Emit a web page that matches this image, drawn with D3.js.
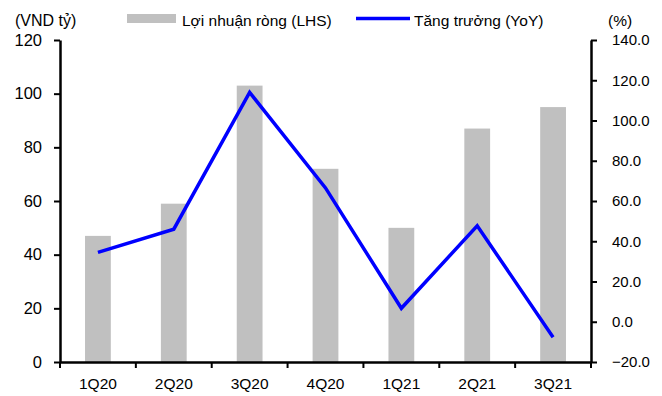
<!DOCTYPE html>
<html>
<head>
<meta charset="utf-8">
<script src="https://cdn.jsdelivr.net/npm/d3@7"></script>
<style>
  body { margin: 0; background: #fff; }
  text { font-family: "Liberation Sans", Arial, sans-serif; fill: #000; }
</style>
</head>
<body>
<div id="chart"></div>
<script>
// data
var quarters = ["1Q20", "2Q20", "3Q20", "4Q20", "1Q21", "2Q21", "3Q21"]
var profit = [47, 59, 103, 72, 50, 87, 95]          // VND ty, left axis
var growth = [34.5, 46, 114, 66.5, 6.7, 47.7, -7.7] // %, right axis
var leftTicks = [0, 20, 40, 60, 80, 100, 120]
var rightTicks = [-20, 0, 20, 40, 60, 80, 100, 120, 140]

var width = 662,
    height = 396,
    margin = {top: 40, left: 60, right: 71, bottom: 34}

var svg = d3.select("#chart")
  .append("svg")
    .attr("width", width)
    .attr("height", height)

var x = d3.scaleBand()
  .domain(quarters)
  .range([margin.left, width - margin.right])

var yL = d3.scaleLinear()
  .domain([0, 120])
  .range([height - margin.bottom, margin.top])

var yR = d3.scaleLinear()
  .domain([-20, 140])
  .range([height - margin.bottom, margin.top])

// bars
var barW = x.bandwidth() * 0.34
svg.selectAll("rect.bar")
  .data(profit)
  .enter()
  .append("rect")
    .attr("class", "bar")
    .attr("x", (d, i) => x(quarters[i]) + x.bandwidth() / 2 - barW / 2)
    .attr("y", d => yL(d))
    .attr("width", barW)
    .attr("height", d => yL(0) - yL(d))
    .attr("fill", "#c0c0c0")

// growth line
var line = d3.line()
  .x((d, i) => x(quarters[i]) + x.bandwidth() / 2)
  .y(d => yR(d))

svg.append("path")
  .datum(growth)
  .attr("d", line)
  .attr("fill", "none")
  .attr("stroke", "#0000ff")
  .attr("stroke-width", 3.5)
  .attr("stroke-linejoin", "miter")

// axes
var leftAxis = svg.append("g")
  .attr("transform", "translate(" + margin.left + ",0)")
  .call(d3.axisLeft(yL).tickValues(leftTicks).tickSize(6).tickSizeOuter(0).tickPadding(12))

var rightAxis = svg.append("g")
  .attr("transform", "translate(" + (width - margin.right) + ",0)")
  .call(d3.axisRight(yR).tickValues(rightTicks).tickSize(6).tickSizeOuter(0).tickPadding(15)
    .tickFormat(d3.format(".1f")))

var xAxis = svg.append("g")
  .attr("transform", "translate(0," + yL(0) + ")")
  .call(d3.axisBottom(x).tickSize(0).tickPadding(16))

// band edge ticks on the x axis
svg.selectAll("line.xtick")
  .data(quarters.concat(["end"]))
  .enter()
  .append("line")
    .attr("class", "xtick")
    .attr("x1", (d, i) => margin.left + i * x.step())
    .attr("x2", (d, i) => margin.left + i * x.step())
    .attr("y1", yL(0))
    .attr("y2", yL(0) + 6)
    .attr("stroke", "#000")
    .attr("stroke-width", 2)

svg.selectAll(".domain").attr("stroke", "#000").attr("stroke-width", 2.5)
svg.selectAll(".tick line").attr("stroke", "#000").attr("stroke-width", 2)
svg.selectAll(".tick text")
  .style("font-family", "'Liberation Sans', Arial, sans-serif")
  .style("font-size", "15.5px")
  .attr("fill", "#000")
leftAxis.selectAll(".tick text").style("font-size", "16.5px")
rightAxis.selectAll(".tick text").style("font-size", "15px")

// unit labels
svg.append("text").attr("x", 15).attr("y", 26).style("font-size", "16px").text("(VND tỷ)")
svg.append("text").attr("x", 608).attr("y", 26).style("font-size", "15.5px").text("(%)")

// legend
svg.append("rect")
  .attr("x", 127).attr("y", 14).attr("width", 49).attr("height", 9)
  .attr("fill", "#c0c0c0")
svg.append("text").attr("x", 182).attr("y", 26).style("font-size", "15.5px").text("Lợi nhuận ròng (LHS)")
svg.append("line")
  .attr("x1", 356).attr("x2", 410).attr("y1", 18.5).attr("y2", 18.5)
  .attr("stroke", "#0000ff").attr("stroke-width", 3.5)
svg.append("text").attr("x", 414).attr("y", 26).style("font-size", "15.5px").text("Tăng trưởng (YoY)")
</script>
</body>
</html>
